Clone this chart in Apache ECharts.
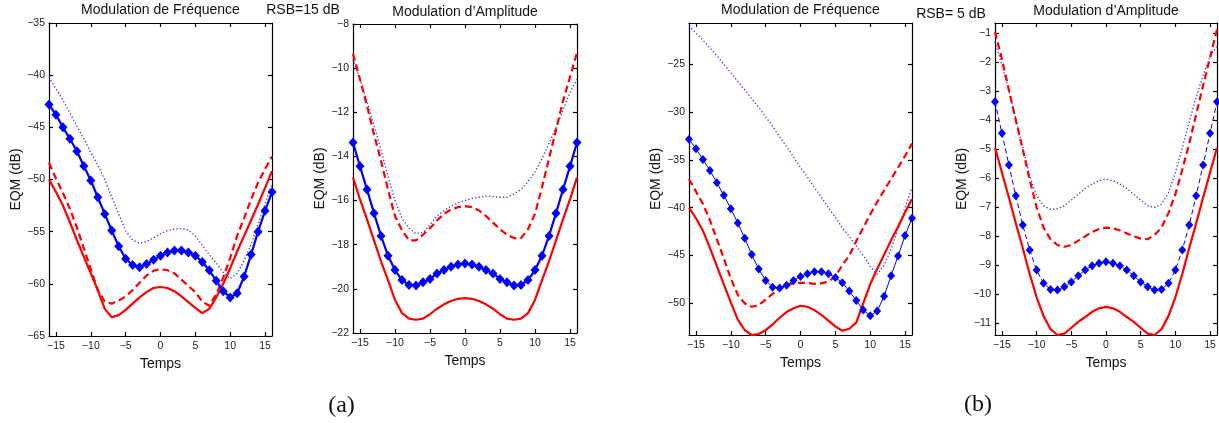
<!DOCTYPE html>
<html><head><meta charset="utf-8">
<script src="https://cdn.jsdelivr.net/npm/echarts@6/dist/echarts.min.js"></script>
<style>html,body{margin:0;padding:0;background:#fff}#c{width:1219px;height:423px}</style>
</head><body><div id="c"></div>
<script>
// Time samples (Temps)
const temps = [-16,-15,-14,-13,-12,-11,-10,-9,-8,-7,-6,-5,-4,-3,-2,-1,0,1,2,3,4,5,6,7,8,9,10,11,12,13,14,15,16];
const xTicks = [-15,-10,-5,0,5,10,15];

// Panel 1 : Modulation de Fréquence, RSB=15 dB
const fm15RedSolid = [-50.0,-51.2,-52.5,-54.1,-55.8,-57.4,-59.0,-60.6,-62.4,-63.2,-63.0,-62.5,-61.9,-61.3,-60.8,-60.4,-60.3,-60.4,-60.7,-61.2,-61.75,-62.3,-62.8,-62.4,-61.3,-60.0,-58.5,-56.9,-55.4,-53.9,-52.4,-50.8,-49.2];
const fm15RedDash = [-48.4,-49.9,-51.3,-52.8,-54.6,-56.6,-58.6,-60.6,-61.7,-61.9,-61.6,-61.2,-60.6,-59.9,-59.2,-58.75,-58.6,-58.7,-59.0,-59.6,-60.2,-60.8,-61.7,-62.1,-61.0,-59.4,-57.5,-55.4,-53.7,-51.9,-50.3,-49.0,-47.8];
const fm15BlueMark = [-42.8,-43.8,-45.0,-46.1,-47.3,-48.7,-50.1,-51.7,-53.3,-54.9,-56.4,-57.6,-58.2,-58.4,-58.1,-57.7,-57.3,-57.0,-56.8,-56.8,-57.0,-57.3,-57.9,-58.7,-59.7,-60.7,-61.3,-60.9,-59.3,-57.2,-55.0,-53.0,-51.2];
const fm15BlueDot = [-40.2,-41.3,-42.4,-43.6,-44.9,-46.1,-47.4,-48.6,-50.0,-51.7,-53.3,-54.9,-55.8,-56.1,-55.95,-55.6,-55.2,-54.9,-54.75,-54.7,-54.85,-55.4,-56.3,-57.2,-58.0,-58.9,-59.5,-59.0,-57.8,-56.2,-54.3,-52.3,-50.4];
const fm15YTicks = [-65,-60,-55,-50,-45,-40,-35];

// Panel 2 : Modulation d'Amplitude, RSB=15 dB
const am15RedSolid = [-14.95,-15.95,-16.85,-17.8,-18.75,-19.6,-20.5,-21.1,-21.35,-21.4,-21.35,-21.15,-20.9,-20.7,-20.55,-20.45,-20.42,-20.45,-20.55,-20.7,-20.9,-21.15,-21.35,-21.4,-21.35,-21.1,-20.5,-19.6,-18.75,-17.8,-16.85,-15.95,-14.95];
const am15RedDash = [-9.35,-10.5,-11.7,-13.0,-14.2,-15.5,-16.7,-17.35,-17.8,-17.8,-17.55,-17.25,-16.9,-16.6,-16.4,-16.3,-16.25,-16.3,-16.45,-16.7,-17.0,-17.3,-17.55,-17.7,-17.7,-17.3,-16.6,-15.4,-14.1,-12.8,-11.5,-10.4,-9.3];
const am15BlueMark = [-13.37,-14.45,-15.5,-16.57,-17.6,-18.5,-19.15,-19.6,-19.82,-19.85,-19.7,-19.55,-19.3,-19.15,-19.0,-18.9,-18.85,-18.9,-19.0,-19.15,-19.3,-19.55,-19.7,-19.85,-19.82,-19.6,-19.15,-18.5,-17.6,-16.57,-15.5,-14.45,-13.37];
const am15BlueDot = [-9.6,-10.5,-11.5,-12.6,-13.7,-14.9,-16.0,-16.8,-17.25,-17.5,-17.45,-17.1,-16.7,-16.45,-16.25,-16.1,-16.0,-15.9,-15.85,-15.8,-15.82,-15.85,-15.85,-15.7,-15.5,-15.15,-14.7,-14.1,-13.4,-12.7,-11.9,-11.1,-10.5];
const am15YTicks = [-22,-20,-18,-16,-14,-12,-10,-8];

// Panel 3 : Modulation de Fréquence, RSB=5 dB
const fm5RedSolid = [-40.0,-41.1,-42.4,-44.2,-46.1,-48.0,-49.9,-51.7,-52.8,-53.3,-53.2,-52.8,-52.2,-51.5,-50.9,-50.5,-50.25,-50.35,-50.7,-51.2,-51.8,-52.4,-52.85,-52.65,-52.0,-50.0,-48.0,-46.4,-44.9,-43.4,-42.0,-40.5,-39.1];
const fm5RedDash = [-37.0,-38.3,-39.6,-41.3,-43.3,-45.3,-47.4,-49.1,-50.0,-50.35,-50.2,-49.6,-49.0,-48.5,-48.1,-47.9,-47.85,-47.85,-47.95,-47.9,-47.7,-47.2,-46.0,-45.0,-43.5,-42.1,-40.7,-39.4,-38.2,-37.0,-35.8,-34.6,-33.3];
const fm5BlueMark = [-32.84,-33.85,-34.97,-36.1,-37.4,-38.7,-40.1,-41.6,-43.2,-44.9,-46.4,-47.6,-48.3,-48.4,-48.1,-47.6,-47.2,-46.9,-46.7,-46.7,-46.9,-47.3,-47.85,-48.7,-49.7,-50.7,-51.3,-50.8,-49.25,-47.1,-45.05,-42.9,-41.1];
const fm5BlueDot = [-21.0,-21.75,-22.5,-23.3,-24.1,-25.0,-25.9,-26.8,-27.7,-28.6,-29.5,-30.5,-31.5,-32.6,-33.6,-34.7,-35.8,-36.8,-37.9,-38.9,-40.0,-41.0,-42.1,-43.0,-44.0,-45.0,-46.1,-46.95,-46.0,-44.3,-42.2,-40.0,-37.9];
const fm5YTicks = [-50,-45,-40,-35,-30,-25];

// Panel 4 : Modulation d'Amplitude, RSB=5 dB
const am5RedSolid = [-4.95,-5.8,-6.66,-7.55,-8.4,-9.3,-10.1,-10.75,-11.2,-11.4,-11.35,-11.15,-10.95,-10.78,-10.6,-10.48,-10.43,-10.48,-10.6,-10.78,-10.95,-11.15,-11.35,-11.4,-11.2,-10.75,-10.1,-9.3,-8.4,-7.55,-6.66,-5.8,-4.95];
const am5RedDash = [-0.95,-1.9,-2.95,-4.0,-5.0,-6.05,-7.0,-7.7,-8.1,-8.3,-8.36,-8.3,-8.15,-8.0,-7.85,-7.75,-7.7,-7.72,-7.8,-7.9,-8.0,-8.08,-8.1,-7.95,-7.7,-7.2,-6.55,-5.7,-4.8,-3.8,-2.8,-1.85,-0.86];
const am5BlueMark = [-3.36,-4.45,-5.54,-6.6,-7.61,-8.47,-9.16,-9.62,-9.83,-9.85,-9.74,-9.57,-9.36,-9.16,-9.01,-8.93,-8.88,-8.93,-9.01,-9.16,-9.36,-9.57,-9.74,-9.85,-9.83,-9.62,-9.16,-8.47,-7.61,-6.6,-5.54,-4.45,-3.36];
const am5BlueDot = [-1.3,-2.1,-3.0,-3.95,-4.95,-5.9,-6.6,-6.95,-7.07,-7.05,-6.95,-6.75,-6.55,-6.35,-6.2,-6.08,-6.03,-6.08,-6.2,-6.35,-6.55,-6.75,-6.95,-7.0,-6.9,-6.5,-5.8,-4.95,-4.05,-3.2,-2.45,-1.8,-1.45];
const am5YTicks = [-11,-10,-9,-8,-7,-6,-5,-4,-3,-2,-1];

const panelTitles = ['Modulation de Fréquence', 'Modulation d\u2019Amplitude', 'Modulation de Fréquence', 'Modulation d\u2019Amplitude'];
const snrLabels = ['RSB=15 dB', 'RSB= 5 dB'];
const figLabels = ['(a)', '(b)'];
const xName = 'Temps';
const yName = 'EQM (dB)';

const FONT = '"Liberation Sans", Arial, Helvetica, sans-serif';
const RED = '#ff0000', BLUE = '#0000ff';

const grids = [
  {left: 49, top: 23, width: 223, height: 313},
  {left: 353, top: 24, width: 224, height: 309},
  {left: 689, top: 23, width: 223, height: 312},
  {left: 995, top: 23, width: 222, height: 312}
];
const yRanges = [[-65,-35],[-22,-8],[-53.3,-20.7],[-11.4,-0.65]];
const yTicksAll = [fm15YTicks, am15YTicks, fm5YTicks, am5YTicks];
const dataAll = [
  [fm15RedSolid, fm15RedDash, fm15BlueMark, fm15BlueDot],
  [am15RedSolid, am15RedDash, am15BlueMark, am15BlueDot],
  [fm5RedSolid, fm5RedDash, fm5BlueMark, fm5BlueDot],
  [am5RedSolid, am5RedDash, am5BlueMark, am5BlueDot]
];
const blueStyles = [
  {width: 2.2, type: 'solid', size: [9, 10]},
  {width: 2.2, type: 'solid', size: [9, 10]},
  {width: 1, type: 'solid', size: [8, 9]},
  {width: 1, type: [5, 3], size: [8, 9]}
];

const fmt = v => String(v).replace('-', '\u2212');
const pairs = arr => temps.map((t, i) => [t, arr[i]]);

const xAxes = [], yAxes = [], series = [];
grids.forEach((g, i) => {
  const lineStyle = {color: '#000', width: 1.2};
  xAxes.push({
    type: 'value', gridIndex: i, min: -16, max: 16, position: 'bottom',
    name: xName, nameLocation: 'middle', nameGap: 14,
    nameTextStyle: {fontFamily: FONT, fontSize: 14, color: '#111'},
    axisLine: {show: true, onZero: false, lineStyle},
    axisTick: {show: true, inside: true, length: 4, lineStyle, customValues: xTicks},
    axisLabel: {show: true, fontFamily: FONT, fontSize: 10.5, color: '#222', margin: 5, formatter: fmt, customValues: xTicks},
    splitLine: {show: false}
  });
  xAxes.push({
    type: 'value', gridIndex: i, min: -16, max: 16, position: 'top',
    axisLine: {show: true, onZero: false, lineStyle},
    axisTick: {show: true, inside: true, length: 4, lineStyle, customValues: xTicks},
    axisLabel: {show: false, customValues: xTicks},
    splitLine: {show: false}
  });
  const yr = yRanges[i], yt = yTicksAll[i];
  yAxes.push({
    type: 'value', gridIndex: i, min: yr[0], max: yr[1], position: 'left',
    name: yName, nameLocation: 'middle', nameGap: 24,
    nameTextStyle: {fontFamily: FONT, fontSize: 14, color: '#111'},
    axisLine: {show: true, onZero: false, lineStyle},
    axisTick: {show: true, inside: true, length: 4, lineStyle, customValues: yt},
    axisLabel: {show: true, fontFamily: FONT, fontSize: 10.5, color: '#222', margin: 4, formatter: fmt, customValues: yt},
    splitLine: {show: false}
  });
  yAxes.push({
    type: 'value', gridIndex: i, min: yr[0], max: yr[1], position: 'right',
    axisLine: {show: true, onZero: false, lineStyle},
    axisTick: {show: true, inside: true, length: 4, lineStyle, customValues: yt},
    axisLabel: {show: false, customValues: yt},
    splitLine: {show: false}
  });
  const d = dataAll[i], bs = blueStyles[i];
  const base = {type: 'line', xAxisIndex: 2 * i, yAxisIndex: 2 * i, smooth: false, animation: false, clip: true};
  series.push(Object.assign({}, base, {
    data: pairs(d[3]), showSymbol: false, symbol: 'none',
    lineStyle: {color: '#3030ff', width: 1.3, type: [1.3, 2.2]}
  }));
  series.push(Object.assign({}, base, {
    data: pairs(d[0]), showSymbol: false, symbol: 'none',
    lineStyle: {color: RED, width: 2.2, type: 'solid'}
  }));
  series.push(Object.assign({}, base, {
    data: pairs(d[1]), showSymbol: false, symbol: 'none',
    lineStyle: {color: RED, width: 2.2, type: [7, 4]}
  }));
  series.push(Object.assign({}, base, {
    data: pairs(d[2]), symbol: 'diamond', symbolSize: bs.size, showSymbol: true,
    itemStyle: {color: BLUE},
    lineStyle: {color: BLUE, width: bs.width, type: bs.type}
  }));
});

const graphics = [];
const titleY = [10, 12, 10.5, 11.5];
grids.forEach((g, i) => {
  graphics.push({type: 'text', x: g.left + g.width / 2, y: titleY[i],
    style: {text: panelTitles[i], font: '14px ' + FONT, fill: '#111', textAlign: 'center', textVerticalAlign: 'middle'}});
});
graphics.push({type: 'text', x: 303, y: 10.5, style: {text: snrLabels[0], font: '14px ' + FONT, fill: '#111', textAlign: 'center', textVerticalAlign: 'middle'}});
graphics.push({type: 'text', x: 951, y: 14.5, style: {text: snrLabels[1], font: '14px ' + FONT, fill: '#111', textAlign: 'center', textVerticalAlign: 'middle'}});
graphics.push({type: 'text', x: 341.5, y: 406, style: {text: figLabels[0], font: '24px "Liberation Serif", "DejaVu Serif", serif', fill: '#111', textAlign: 'center', textVerticalAlign: 'middle'}});
graphics.push({type: 'text', x: 978, y: 405, style: {text: figLabels[1], font: '24px "Liberation Serif", "DejaVu Serif", serif', fill: '#111', textAlign: 'center', textVerticalAlign: 'middle'}});

const chart = echarts.init(document.getElementById('c'), null, {renderer: 'canvas'});
chart.setOption({
  animation: false,
  backgroundColor: '#fff',
  grid: grids.map(g => Object.assign({containLabel: false}, g)),
  xAxis: xAxes,
  yAxis: yAxes,
  series: series,
  graphic: graphics
});
</script>
</body></html>
